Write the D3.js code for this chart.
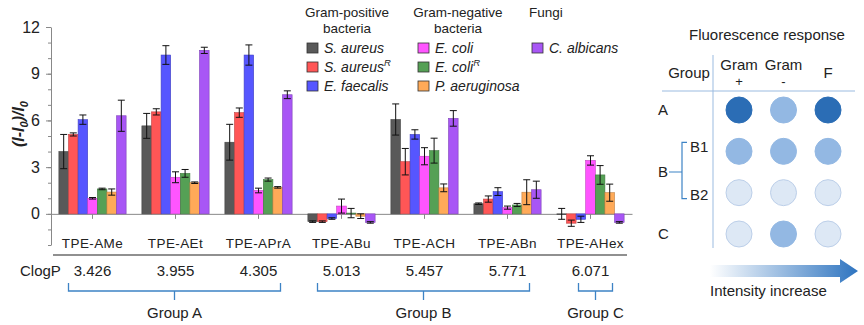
<!DOCTYPE html>
<html>
<head>
<meta charset="utf-8">
<script src="https://cdn.jsdelivr.net/npm/d3@7"></script>
<style>
  body { margin: 0; background: white; }
  svg { display: block; font-family: "Liberation Sans", Arial, sans-serif; }
</style>
</head>
<body>
<div class="svg-wrap"></div>
<script>
// categories & series
let categories = ["TPE-AMe", "TPE-AEt", "TPE-APrA", "TPE-ABu", "TPE-ACH", "TPE-ABn", "TPE-AHex"];
let species = ["S. aureus", "S. aureusR", "E. faecalis", "E. coli", "E. coliR", "P. aeruginosa", "C. albicans"];
let colors = ["#595959", "#ff5656", "#5656ff", "#ff55ff", "#55a055", "#ffaa58", "#a856f5"];

// one row per compound, one value per species
let values = [
  [4.0, 5.1, 6.05, 1.0, 1.6, 1.4, 6.3],
  [5.65, 6.55, 10.2, 2.35, 2.6, 2.0, 10.5],
  [4.6, 6.5, 10.2, 1.5, 2.2, 1.7, 7.65],
  [-0.5, -0.5, -0.3, 0.5, 0.05, -0.15, -0.55],
  [6.06, 3.35, 5.1, 3.7, 4.06, 1.67, 6.13],
  [0.65, 0.95, 1.43, 0.4, 0.57, 1.39, 1.55],
  [0.0, -0.6, -0.35, 3.43, 2.5, 1.36, -0.55]
];
let errors = [
  [1.1, 0.1, 0.3, 0.05, 0.05, 0.2, 1.0],
  [0.8, 0.2, 0.6, 0.35, 0.25, 0.05, 0.2],
  [1.15, 0.3, 0.65, 0.15, 0.1, 0.05, 0.25],
  [0.05, 0.05, 0.05, 0.45, 0.3, 0.15, 0.05],
  [1.0, 0.85, 0.3, 0.55, 0.8, 0.25, 0.5],
  [0.05, 0.2, 0.25, 0.1, 0.1, 0.8, 0.55],
  [0.35, 0.2, 0.2, 0.3, 0.6, 0.55, 0.05]
];

let clogP = ["3.426", "3.955", "4.305", "5.013", "5.457", "5.771", "6.071"];
let groupNames = ["Group A", "Group B", "Group C"];
let groupFirst = [0, 3, 6];
let groupLast = [2, 5, 6];

let legendHeads = ["Gram-positive|bacteria", "Gram-negative|bacteria", "Fungi"];
let legendCols = [[0, 1, 2], [3, 4, 5], [6]];

// right panel
let panelRows = ["A", "B1", "B2", "C"];
let panelCols = ["Gram|+", "Gram|-", "F"];
let panelLevels = [
  [3, 2, 3],
  [2, 2, 2],
  [1, 1, 1],
  [1, 2, 1]
];
let levelFill = ["#dde8f5", "#93b8e3", "#2b6db5"];
let levelStroke = ["#bccfe9", "#93b8e3", "#2b6db5"];

var width = 864, height = 325;
var plot = { left: 51, right: 632, top: 27, bottom: 245 };

let svg = d3.select(".svg-wrap")
  .append("svg")
  .attr("width", width)
  .attr("height", height);

let scaleX = d3.scaleBand()
  .domain(categories)
  .range([plot.left, plot.right])
  .paddingInner(0.19)
  .paddingOuter(0.095);

let scaleInner = d3.scaleBand()
  .domain(species)
  .range([0, scaleX.bandwidth()]);

let scaleY = d3.scaleLinear()
  .domain([-2, 12])
  .range([plot.bottom, plot.top]);

drawAxes();
drawBars();
drawLegend();
drawClogP();
drawPanel();

function center(i) {
  return scaleX(categories[i]) + scaleX.bandwidth() / 2;
}

function drawAxes() {
  // minor ticks every unit
  let minor = svg.append("g")
    .attr("transform", `translate(${plot.left},0)`)
    .call(d3.axisLeft(scaleY).tickValues(d3.range(-2, 13, 1)).tickSize(3).tickFormat(""));
  minor.select(".domain").remove();
  minor.selectAll("line").attr("stroke", "#888");

  let yAxis = svg.append("g")
    .attr("transform", `translate(${plot.left},0)`)
    .call(d3.axisLeft(scaleY).tickValues([0, 3, 6, 9, 12]).tickSize(5).tickSizeOuter(0).tickPadding(6));
  yAxis.select(".domain").attr("stroke", "#888");
  yAxis.selectAll("line").attr("stroke", "#888");
  yAxis.selectAll("text")
    .style("font-size", "16px")
    .style("font-family", "Liberation Sans, Arial, sans-serif")
    .attr("fill", "#222");

  // zero line
  let xAxis = svg.append("g")
    .attr("transform", `translate(0,${scaleY(0)})`)
    .call(d3.axisBottom(scaleX).tickSize(5).tickSizeOuter(0).tickFormat(""));
  xAxis.select(".domain").attr("stroke", "#888");
  xAxis.selectAll("line").attr("stroke", "#888");

  svg.append("g").selectAll("text")
    .data(categories)
    .enter()
    .append("text")
    .attr("x", (d) => scaleX(d) + scaleX.bandwidth() / 2)
    .attr("y", 248)
    .attr("text-anchor", "middle")
    .style("font-size", "13.5px")
    .style("letter-spacing", "0.4px")
    .attr("fill", "#222")
    .text((d) => d);

  // y label
  let yl = svg.append("text")
    .attr("transform", "translate(24,124) rotate(-90)")
    .attr("text-anchor", "middle")
    .style("font-size", "16px")
    .style("font-weight", "bold")
    .style("font-style", "italic")
    .attr("fill", "#222");
  yl.append("tspan").text("(I-I");
  yl.append("tspan").attr("dy", 4).style("font-size", "11px").text("0");
  yl.append("tspan").attr("dy", -4).text(")/I");
  yl.append("tspan").attr("dy", 4).style("font-size", "11px").text("0");
}

function drawBars() {
  let groups = svg.append("g").selectAll("g")
    .data(categories)
    .enter()
    .append("g")
    .attr("transform", (d) => `translate(${scaleX(d)},0)`);

  groups.each(function (cat, ci) {
    let g = d3.select(this);
    let rows = species.map((s, si) => ({ s: s, v: values[ci][si], e: errors[ci][si], c: colors[si] }));

    g.selectAll("rect")
      .data(rows)
      .enter()
      .append("rect")
      .attr("x", (d) => scaleInner(d.s))
      .attr("width", scaleInner.bandwidth())
      .attr("y", (d) => scaleY(Math.max(0, d.v)))
      .attr("height", (d) => Math.max(0.8, Math.abs(scaleY(d.v) - scaleY(0))))
      .style("fill", (d) => d.c)
      .style("stroke", (d) => d3.color(d.c).darker(0.8))
      .style("stroke-width", 0.6);

    let eb = g.selectAll(".err")
      .data(rows)
      .enter()
      .append("g")
      .attr("class", "err")
      .attr("stroke", "#111")
      .attr("stroke-width", 1);
    let cx = (d) => scaleInner(d.s) + scaleInner.bandwidth() / 2;
    eb.append("line")
      .attr("x1", cx).attr("x2", cx)
      .attr("y1", (d) => scaleY(d.v + d.e))
      .attr("y2", (d) => scaleY(d.v - d.e));
    eb.append("line")
      .attr("x1", (d) => cx(d) - 3.5).attr("x2", (d) => cx(d) + 3.5)
      .attr("y1", (d) => scaleY(d.v + d.e))
      .attr("y2", (d) => scaleY(d.v + d.e));
    eb.append("line")
      .attr("x1", (d) => cx(d) - 3.5).attr("x2", (d) => cx(d) + 3.5)
      .attr("y1", (d) => scaleY(d.v - d.e))
      .attr("y2", (d) => scaleY(d.v - d.e));
  });
}

function drawLegend() {
  let colX = [307, 418, 532];
  let rowY = [48, 67, 86];

  legendHeads.forEach((h, i) => {
    let lines = h.split("|");
    let t = svg.append("text")
      .attr("x", lines.length > 1 ? colX[i] + 40 : colX[i] - 3)
      .attr("y", 17)
      .attr("text-anchor", lines.length > 1 ? "middle" : "start")
      .style("font-size", "13.5px")
      .attr("fill", "#222");
    lines.forEach((l, j) => {
      t.append("tspan")
        .attr("x", lines.length > 1 ? colX[i] + 40 : colX[i] - 3)
        .attr("dy", j == 0 ? 0 : 16)
        .text(l);
    });

    legendCols[i].forEach((si, r) => {
      svg.append("rect")
        .attr("x", colX[i])
        .attr("y", rowY[r] - 5)
        .attr("width", 11)
        .attr("height", 10)
        .style("fill", colors[si])
        .style("stroke", "#333")
        .style("stroke-width", 0.8);
      let name = species[si];
      let sup = name.endsWith("R");
      let lt = svg.append("text")
        .attr("x", colX[i] + 17)
        .attr("y", rowY[r] + 5)
        .style("font-size", "14px")
        .style("font-style", "italic")
        .attr("fill", "#222")
        .text(sup ? name.slice(0, -1) : name);
      if (sup) {
        lt.append("tspan")
          .attr("dy", -6)
          .style("font-size", "9.5px")
          .text("R");
      }
    });
  });
}

function drawClogP() {
  svg.append("line")
    .attr("x1", plot.left + 2).attr("x2", plot.right - 5)
    .attr("y1", 255).attr("y2", 255)
    .attr("stroke", "#222")
    .attr("stroke-width", 1.2);

  svg.append("text")
    .attr("x", 20).attr("y", 276)
    .style("font-size", "15px")
    .attr("fill", "#222")
    .text("ClogP");

  svg.append("g").selectAll("text")
    .data(clogP)
    .enter()
    .append("text")
    .attr("x", (d, i) => center(i))
    .attr("y", 276)
    .attr("text-anchor", "middle")
    .style("font-size", "15px")
    .attr("fill", "#222")
    .text((d) => d);

  let blue = "#3d83c5";
  groupNames.forEach((name, i) => {
    let x0 = center(groupFirst[i]) - (i == 2 ? 12 : 24);
    let x1 = center(groupLast[i]) + (i == 2 ? 22 : 22);
    let mid = (x0 + x1) / 2;
    svg.append("path")
      .attr("d", `M${x0},283 V291 H${x1} V283 M${mid},291 V300`)
      .attr("fill", "none")
      .attr("stroke", blue)
      .attr("stroke-width", 1.3);
    svg.append("text")
      .attr("x", mid)
      .attr("y", 318)
      .attr("text-anchor", "middle")
      .style("font-size", "15px")
      .attr("fill", "#222")
      .text(name);
  });
}

function drawPanel() {
  let px = d3.scalePoint().domain(panelCols).range([739, 828]);
  let py = d3.scalePoint().domain(panelRows).range([110, 234]);

  svg.append("text")
    .attr("x", 767).attr("y", 40)
    .attr("text-anchor", "middle")
    .style("font-size", "15px")
    .attr("fill", "#222")
    .text("Fluorescence response");

  svg.append("line")
    .attr("x1", 713).attr("x2", 713)
    .attr("y1", 55).attr("y2", 248)
    .attr("stroke", "#9bbbe0").attr("stroke-width", 1);
  svg.append("line")
    .attr("x1", 662).attr("x2", 855)
    .attr("y1", 91).attr("y2", 91)
    .attr("stroke", "#9bbbe0").attr("stroke-width", 1);

  svg.append("text")
    .attr("x", 689).attr("y", 78)
    .attr("text-anchor", "middle")
    .style("font-size", "15px")
    .attr("fill", "#222")
    .text("Group");

  panelCols.forEach((c) => {
    let lines = c.split("|");
    let t = svg.append("text")
      .attr("text-anchor", "middle")
      .style("font-size", "15px")
      .attr("fill", "#222");
    if (lines.length > 1) {
      t.append("tspan").attr("x", px(c)).attr("y", 70).text(lines[0]);
      t.append("tspan").attr("x", px(c)).attr("y", 86).style("font-size", "13px").text(lines[1]);
    } else {
      t.append("tspan").attr("x", px(c)).attr("y", 78).text(lines[0]);
    }
  });

  panelRows.forEach((r, ri) => {
    panelCols.forEach((c, ci) => {
      let lv = panelLevels[ri][ci] - 1;
      svg.append("circle")
        .attr("cx", px(c))
        .attr("cy", py(r))
        .attr("r", 13)
        .style("fill", levelFill[lv])
        .style("stroke", levelStroke[lv])
        .style("stroke-width", 1);
    });
  });

  // row labels
  let labelAt = (txt, x, y) => svg.append("text")
    .attr("x", x).attr("y", y + 5)
    .style("font-size", "15px")
    .attr("fill", "#222")
    .text(txt);
  labelAt("A", 658, py("A"));
  labelAt("B1", 690, py("B1") - 4);
  labelAt("B2", 690, py("B2") + 2);
  labelAt("C", 658, py("C"));
  let bMid = (py("B1") + py("B2")) / 2;
  labelAt("B", 658, bMid);
  svg.append("path")
    .attr("d", `M669,${bMid} H682 M687,${py("B1") - 9} H682 V${py("B2") + 6} H687`)
    .attr("fill", "none")
    .attr("stroke", "#3d83c5")
    .attr("stroke-width", 1.2);

  // arrow
  let grad = svg.append("defs").append("linearGradient")
    .attr("id", "arrowGrad")
    .attr("x1", "0%").attr("x2", "100%");
  grad.append("stop").attr("offset", "0%").attr("stop-color", "#ffffff");
  grad.append("stop").attr("offset", "100%").attr("stop-color", "#2e74c0");
  svg.append("path")
    .attr("d", "M710,265 H840 V259 L858,271 L840,283 V277 H710 Z")
    .attr("fill", "url(#arrowGrad)");

  svg.append("text")
    .attr("x", 710).attr("y", 296)
    .style("font-size", "15px")
    .attr("fill", "#222")
    .text("Intensity increase");
}
</script>
</body>
</html>
